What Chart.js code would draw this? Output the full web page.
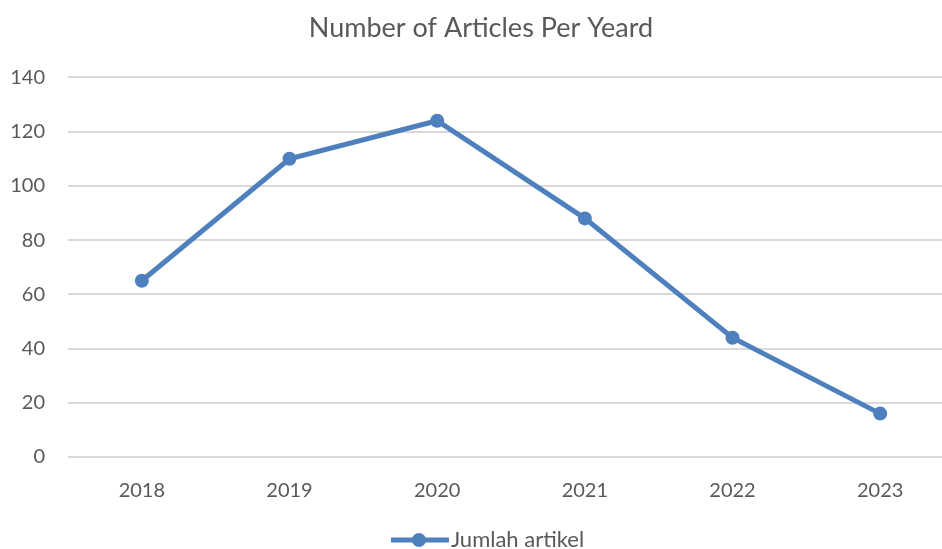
<!DOCTYPE html>
<html>
<head>
<meta charset="utf-8">
<script src="https://cdn.jsdelivr.net/npm/chart.js@4.4.1/dist/chart.umd.min.js"></script>
<style>
  html, body { margin: 0; padding: 0; background: #fff; overflow: hidden; }
  #wrap { position: relative; width: 975px; height: 549px; }
</style>
</head>
<body>
<div id="wrap"><canvas id="myChart"></canvas></div>
<script>
const years = ['2018', '2019', '2020', '2021', '2022', '2023'];
const articleCounts = [65, 110, 124, 88, 44, 16];
const seriesName = 'Jumlah artikel';
const chartTitle = 'Number of Articles Per Yeard';

const lineColor = '#4e80bd';
const textColor = '#595959';
const fontFamily = 'Lato, "Open Sans", sans-serif';

// legend marker: short line with a dot in the middle (shifted right so it hugs the text)
function legendMarker() {
    const c = document.createElement('canvas');
    c.width = 100;
    c.height = 16;
    const g = c.getContext('2d');
    g.strokeStyle = lineColor;
    g.lineWidth = 5;
    g.beginPath();
    g.moveTo(32, 8);
    g.lineTo(90, 8);
    g.stroke();
    g.fillStyle = lineColor;
    g.beginPath();
    g.arc(60, 8, 7, 0, Math.PI * 2);
    g.fill();
    return c;
}
const marker = legendMarker();

const ctx = document.getElementById('myChart').getContext('2d');
const chart = new Chart(ctx, {
    type: 'line',
    data: {
        labels: years,
        datasets: [{
            label: seriesName,
            data: articleCounts,
            borderColor: lineColor,
            backgroundColor: lineColor,
            borderWidth: 5,
            pointRadius: 7,
            pointHoverRadius: 7,
            pointBorderWidth: 0,
            tension: 0
        }]
    },
    options: {
        responsive: true,
        maintainAspectRatio: false,
        animation: false,
        layout: { padding: { left: 8, right: 21, top: 12, bottom: -12 } },
        plugins: {
            title: {
                display: true,
                text: chartTitle,
                color: textColor,
                font: { family: fontFamily, size: 27, weight: 'normal' },
                padding: { top: 0, bottom: 33 }
            },
            legend: {
                position: 'bottom',
                labels: {
                    usePointStyle: true,
                    pointStyleWidth: 62,
                    color: textColor,
                    font: { family: fontFamily, size: 22 },
                    padding: 4,
                    generateLabels(chart) {
                        const items = Chart.defaults.plugins.legend.labels.generateLabels(chart);
                        items.forEach(it => { it.pointStyle = marker; });
                        return items;
                    }
                }
            },
            tooltip: { enabled: false }
        },
        scales: {
            x: {
                offset: true,
                grid: { display: false, drawTicks: false },
                border: { display: false },
                ticks: {
                    color: textColor,
                    font: { family: fontFamily, size: 20 },
                    padding: 22
                }
            },
            y: {
                min: 0,
                max: 140,
                afterFit(scale) { scale.width = 60; },
                grid: { color: '#d9d9d9', lineWidth: 2, drawTicks: false },
                border: { display: false },
                ticks: {
                    stepSize: 20,
                    color: textColor,
                    font: { family: fontFamily, size: 20 },
                    padding: 23
                }
            }
        }
    }
});
</script>
</body>
</html>
